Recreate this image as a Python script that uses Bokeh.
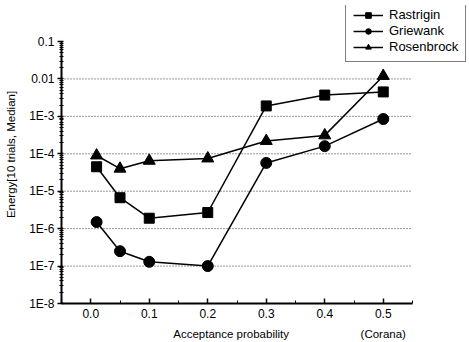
from bokeh.plotting import figure
from bokeh.models import Range1d, FixedTicker, Legend, LegendItem, LinearAxis
from bokeh.embed import file_html
from bokeh.resources import INLINE
import math

# ---- data ----
x_vals = [0.01, 0.05, 0.1, 0.2, 0.3, 0.4, 0.5]
rastrigin = [4.5e-5, 6.7e-6, 1.9e-6, 2.7e-6, 1.9e-3, 3.7e-3, 4.5e-3]
griewank = [1.5e-6, 2.5e-7, 1.3e-7, 1.0e-7, 5.7e-5, 1.6e-4, 8.5e-4]
rosenbrock = [9.0e-5, 4.0e-5, 6.5e-5, 7.5e-5, 2.2e-4, 3.1e-4, 1.2e-2]

x_ticks = [0.0, 0.1, 0.2, 0.3, 0.4, 0.5]
x_tick_labels = ["0.0", "0.1", "0.2", "0.3", "0.4", "0.5"]
y_ticks = [1e-8, 1e-7, 1e-6, 1e-5, 1e-4, 1e-3, 1e-2, 1e-1]
y_tick_labels = ["1E-8", "1E-7", "1E-6", "1E-5", "1E-4", "1E-3", "0.01", "0.1"]

FONT = "Liberation Sans"

# ---- layout (pixels) ----
W, H = 469, 342
FL, FR, FT, FB = 61, 466, 5, 303      # frame edges (extended for legend room)
AX_RIGHT, AX_TOP = 412, 41            # where the drawn axes end
X_LO, X_HI = -0.05, 0.55
Y_LO, Y_HI = 1e-8, 1e-1

px_per_x = (AX_RIGHT - FL) / (X_HI - X_LO)
x_end = X_HI + (FR - AX_RIGHT) / px_per_x
px_per_dec = (FB - AX_TOP) / (math.log10(Y_HI) - math.log10(Y_LO))
y_end = 10 ** (math.log10(Y_HI) + (AX_TOP - FT) / px_per_dec)

p = figure(width=W, height=H, output_backend="svg", toolbar_location=None,
           y_axis_type="log",
           x_range=Range1d(X_LO, x_end), y_range=Range1d(Y_LO, y_end),
           min_border_left=FL, min_border_right=W - FR,
           min_border_top=FT, min_border_bottom=H - FB)
p.outline_line_color = None
p.background_fill_color = "white"
p.border_fill_color = "white"
p.grid.grid_line_color = None

# ---- axes ----
minor_y = [m * 10.0 ** e for e in range(-8, -1) for m in range(2, 10)]
p.yaxis.ticker = FixedTicker(ticks=y_ticks, minor_ticks=minor_y)
p.yaxis.major_label_overrides = {t: l for t, l in zip(y_ticks, y_tick_labels)}
p.xaxis.ticker = FixedTicker(ticks=x_ticks, minor_ticks=[X_LO + 0.05 * i for i in range(13)])
p.xaxis.major_label_overrides = {t: l for t, l in zip(x_ticks, x_tick_labels)}
p.xaxis.bounds = (X_LO, X_HI)
p.yaxis.bounds = (Y_LO, Y_HI)

for ax in (p.xaxis[0], p.yaxis[0]):
    ax.axis_line_width = 2
    ax.axis_line_color = "black"
    ax.major_tick_line_color = "black"
    ax.minor_tick_line_color = "black"
    ax.major_tick_line_width = 1.5
    ax.major_label_text_font = FONT
    ax.major_label_text_font_size = "12px"
    ax.major_label_text_color = "black"
    ax.axis_label_text_font = FONT
    ax.axis_label_text_font_size = "11.5px"
    ax.axis_label_text_font_style = "normal"
    ax.axis_label_text_color = "black"

p.xaxis.major_tick_in = 5
p.xaxis.major_tick_out = 0
p.xaxis.minor_tick_in = 3
p.xaxis.minor_tick_out = 0
p.xaxis.major_label_standoff = 5

p.yaxis.major_tick_in = 2
p.yaxis.major_tick_out = 4
p.yaxis.minor_tick_in = 2
p.yaxis.minor_tick_out = 2
p.yaxis.major_label_standoff = 3
p.yaxis.axis_label = "Energy[10 trials, Median]"
p.yaxis.axis_label_standoff = 9

# second (label-only) axis below: x title and the "(Corana)" note
label_axis = LinearAxis(
    ticker=FixedTicker(ticks=[0.24, 0.5]),
    major_label_overrides={0.24: "Acceptance probability", 0.5: "(Corana)"},
    axis_line_color=None, major_tick_line_color=None, minor_tick_line_color=None,
    major_label_standoff=1,
    major_label_text_font=FONT, major_label_text_font_size="11.5px",
    major_label_text_color="black",
)
p.add_layout(label_axis, "below")

# ---- dotted horizontal grid (only over the drawn axis extent) ----
grid_vals = [t for t in y_ticks if Y_LO < t < Y_HI]
p.segment(x0=[X_LO] * len(grid_vals), x1=[X_HI] * len(grid_vals),
          y0=grid_vals, y1=grid_vals,
          line_color="#333333", line_dash="1 2", line_width=1)

# ---- series ----
r1l = p.line(x_vals, rastrigin, line_color="black", line_width=1.5)
r1m = p.scatter(x_vals, rastrigin, marker="square", size=10, color="black")
r2l = p.line(x_vals, griewank, line_color="black", line_width=1.5)
r2m = p.scatter(x_vals, griewank, marker="circle", size=11, color="black")
r3l = p.line(x_vals, rosenbrock, line_color="black", line_width=1.5)
r3m = p.scatter(x_vals, rosenbrock, marker="triangle", size=12, color="black")

legend = Legend(items=[
    LegendItem(label="Rastrigin", renderers=[r1l, r1m]),
    LegendItem(label="Griewank", renderers=[r2l, r2m]),
    LegendItem(label="Rosenbrock", renderers=[r3l, r3m]),
], location=(345 - FL, FB - 62))
legend.border_line_color = "black"
legend.border_line_width = 1
legend.background_fill_color = "white"
legend.background_fill_alpha = 1
legend.label_text_font = FONT
legend.label_text_font_size = "13px"
legend.label_text_color = "black"
legend.glyph_width = 30
legend.glyph_height = 14
legend.label_height = 14
legend.label_standoff = 6
legend.spacing = 1
legend.padding = 7
legend.margin = 0
p.add_layout(legend, "center")

open("out.html", "w").write(file_html(p, INLINE))
